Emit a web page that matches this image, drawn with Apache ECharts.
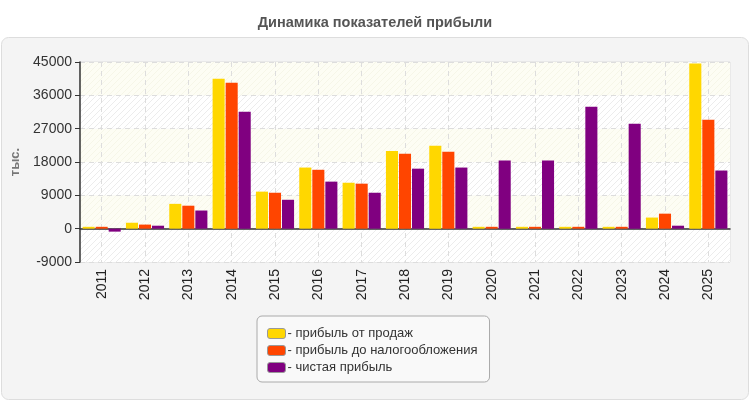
<!DOCTYPE html>
<html>
<head>
<meta charset="utf-8">
<script src="https://cdn.jsdelivr.net/npm/echarts@6/dist/echarts.min.js"></script>
<style>
  html, body { margin: 0; padding: 0; background: #fff; }
  #chart { width: 750px; height: 400px; }
</style>
</head>
<body>
<div id="chart"></div>
<script>
var years = ['2011','2012','2013','2014','2015','2016','2017','2018','2019','2020','2021','2022','2023','2024','2025'];
var salesProfit = [500, 1600, 6700, 40500, 10000, 16500, 12400, 21000, 22400, 500, 500, 500, 500, 3000, 44600];
var preTaxProfit = [500, 1100, 6200, 39400, 9700, 15900, 12150, 20200, 20800, 500, 500, 500, 500, 4050, 29400];
var netProfit = [-800, 800, 4900, 31600, 7800, 12700, 9700, 16200, 16500, 18400, 18400, 32900, 28300, 800, 15700];
var seriesNames = ['прибыль от продаж', 'прибыль до налогообложения', 'чистая прибыль'];
var seriesColors = ['#FFD700', '#FF4500', '#800080'];

// фон штриховкой
function hatch(bg, line) {
    var c = document.createElement('canvas');
    c.width = 6; c.height = 6;
    var ctx = c.getContext('2d');
    ctx.fillStyle = bg;
    ctx.fillRect(0, 0, 6, 6);
    ctx.strokeStyle = line;
    ctx.lineWidth = 1;
    ctx.beginPath();
    ctx.moveTo(-1, 7); ctx.lineTo(7, -1);
    ctx.moveTo(-1, 1); ctx.lineTo(1, -1);
    ctx.moveTo(5, 7); ctx.lineTo(7, 5);
    ctx.stroke();
    return { image: c, repeat: 'repeat' };
}

var chart = echarts.init(document.getElementById('chart'));
var option = {
    animation: false,
    textStyle: { fontFamily: 'Liberation Sans, Arial, sans-serif' },
    title: {
        text: 'Динамика показателей прибыли',
        left: 'center',
        top: 10,
        textStyle: { fontSize: 14.5, fontWeight: 'bold', color: '#555' }
    },
    graphic: [{
        type: 'rect',
        z: -10,
        shape: { x: 1.5, y: 37.5, width: 747, height: 362, r: 7 },
        style: { fill: '#f4f4f4', stroke: '#dddddd', lineWidth: 1 }
    }],
    legend: {
        orient: 'vertical',
        left: 257,
        top: 316,
        padding: [11, 12, 8, 10],
        backgroundColor: '#f9f9f9',
        borderColor: '#aaa',
        borderWidth: 1,
        borderRadius: 5,
        itemWidth: 18,
        itemHeight: 10,
        itemGap: 4,
        icon: 'roundRect',
        itemStyle: { borderColor: '#999', borderWidth: 1 },
        formatter: '- {name}',
        textStyle: { fontSize: 13, color: '#333', padding: [0, 0, 0, -3] },
        data: seriesNames
    },
    grid: {
        left: 80,
        right: 20,
        top: 62,
        bottom: 138,
        show: true,
        borderColor: '#dddddd',
        borderWidth: 1,
        backgroundColor: 'transparent'
    },
    xAxis: {
        type: 'category',
        data: years,
        axisLine: { lineStyle: { color: '#333', width: 1.5 } },
        axisTick: { alignWithLabel: true, length: 5, lineStyle: { color: '#333' } },
        axisLabel: { rotate: 90, fontSize: 14, color: '#222', margin: 7 },
        splitLine: { show: true, alignWithLabel: true, lineStyle: { color: '#dddddd', type: [5, 4] } }
    },
    yAxis: {
        type: 'value',
        min: -9000,
        max: 45000,
        interval: 9000,
        name: 'тыс.',
        nameLocation: 'middle',
        nameRotate: 90,
        nameGap: 56,
        nameTextStyle: { color: '#777', fontWeight: 'bold', fontSize: 13 },
        axisLine: { show: true, lineStyle: { color: '#333', width: 1.5 } },
        axisTick: { show: true, length: 5, lineStyle: { color: '#333' } },
        axisLabel: { fontSize: 14, color: '#333', margin: 8, formatter: function (v) { return String(v); } },
        splitLine: { show: true, lineStyle: { color: '#dddddd', type: [5, 4] } },
        splitArea: {
            show: true,
            areaStyle: { color: [hatch('#ffffff', '#ececec'), hatch('#fdfdf4', '#f6f6e8')] }
        }
    },
    series: [
        { name: seriesNames[0], type: 'bar', data: salesProfit, itemStyle: { color: seriesColors[0] }, barGap: '8%', barCategoryGap: '12%' },
        { name: seriesNames[1], type: 'bar', data: preTaxProfit, itemStyle: { color: seriesColors[1] }, barGap: '8%', barCategoryGap: '12%' },
        { name: seriesNames[2], type: 'bar', data: netProfit, itemStyle: { color: seriesColors[2] }, barGap: '8%', barCategoryGap: '12%' }
    ]
};
chart.setOption(option);
window.onresize = chart.resize;
</script>
</body>
</html>
